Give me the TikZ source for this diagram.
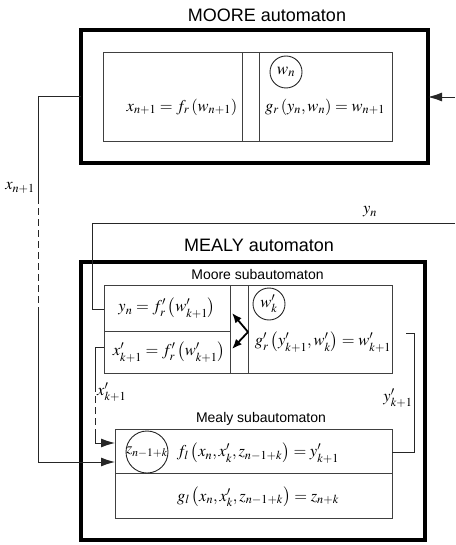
\documentclass[tikz,border=0pt]{standalone}
\usepackage{mathptmx}
\usepackage[no-math]{fontspec}
\setmainfont{Liberation Sans}
\usetikzlibrary{arrows.meta}

\begin{document}
\begin{tikzpicture}[x=1pt, y=-1pt,
    outerbox/.style={draw, line width=3.5pt, outer sep=0pt, inner sep=0pt},
    innerbox/.style={draw=black!75, line width=0.9pt, outer sep=0pt, inner sep=0pt},
    wire/.style={draw=black!85, line width=0.9pt},
    dashwire/.style={wire, dash pattern=on 7pt off 4pt},
    head/.style={-{Latex[length=14pt,width=9pt]}},
    fork/.style={line width=1.8pt, -{Latex[length=10pt,width=8pt]}},
    eq/.style={font=\fontsize{16.5}{20}\selectfont, inner sep=0pt},
    title/.style={font=\fontsize{18}{22}\selectfont, inner sep=0pt},
    subtitle/.style={font=\fontsize{14}{17}\selectfont, inner sep=0pt},
    state/.style={circle, draw=black!85, line width=0.9pt, inner sep=0pt}]
  \useasboundingbox (0,0) rectangle (455,545);

  % MOORE automaton
  \node[title] (mooretitle) at (267,15) {MOORE automaton};
  \node[outerbox, minimum width=347, minimum height=133] (moore) at (254.5,96.5) {};
  \node[innerbox, minimum width=289, minimum height=89] (mooreinner) at (247.5,96.5) {};
  \node[innerbox, minimum width=17, minimum height=89] (moorestrip) at (250.5,96.5) {};
  \node[eq] (xout) at (182,107) {$x_{n+1} = f_r\left(w_{n+1}\right)$};
  \node[eq] (gmoore) at (325,107) {$g_r\left(y_n, w_n\right) = w_{n+1}$};
  \node[state, minimum size=32] (wn) at (286,72) {\fontsize{17}{20}\selectfont$w_n$};

  % MEALY automaton
  \node[title] (mealytitle) at (259,245) {MEALY automaton};
  \node[outerbox, minimum width=344, minimum height=278] (mealy) at (253,401) {};

  % Moore subautomaton
  \node[subtitle] (subtitleA) at (257.5,274) {Moore subautomaton};
  \node[innerbox, minimum width=288, minimum height=88] (mooresub) at (248,329) {};
  \node[innerbox, minimum width=18, minimum height=88] (substrip) at (239,329) {};
  \draw[innerbox] ([yshift=-2pt]mooresub.west) -- ([yshift=-2pt]substrip.west);
  \node[eq] (ysub) at (167,308) {$y_n = f'_r\left(w'_{k+1}\right)$};
  \node[eq] (xsub) at (169,352) {$x'_{k+1} = f'_r\left(w'_{k+1}\right)$};
  \node[eq] (gsub) at (323,342) {$g'_r\left(y'_{k+1}, w'_k\right) = w'_{k+1}$};
  \node[state, minimum size=32] (wk) at (269,304) {\fontsize{16.5}{20}\selectfont$w'_k$};
  \coordinate (forkroot) at (248,332);
  \coordinate (forkup) at (232,313);
  \coordinate (forkdown) at (232,349);
  \draw[fork] (forkroot) -- (forkup);
  \draw[fork] (forkroot) -- (forkdown);

  % Mealy subautomaton
  \node[subtitle] (subtitleB) at (261,419) {Mealy subautomaton};
  \node[innerbox, minimum width=277, minimum height=89] (mealysub) at (253.5,473.5) {};
  \draw[innerbox] (mealysub.west) -- (mealysub.east);
  \node[state, minimum size=42] (zc) at (147,452) {};
  \node[inner sep=0pt, font=\fontsize{15.5}{20}\selectfont] (zlabel) at (zc) {$z_{n-1+k}$};
  \node[eq] (fmealy) at (258,453) {$f_l\left(x_n, x'_k, z_{n-1+k}\right) = y'_{k+1}$};
  \node[eq] (gmealy) at (258,497) {$g_l\left(x_n, x'_k, z_{n-1+k}\right) = z_{n+k}$};

  % input y_n of MOORE automaton
  \coordinate (yin) at (455,97);
  \draw[wire, head] (yin) -- (moore.east |- yin);

  % x_{n+1}
  \coordinate (xa) at (38,96.5);
  \coordinate (xb) at (38,197);
  \coordinate (xc) at (38,312);
  \coordinate (xd) at (38,462);
  \draw[wire] (moore.west) -- (xa) -- (xb);
  \draw[dashwire] (xb) -- (xc);
  \draw[wire, head] (xc) -- (xd) -- (mealysub.west |- xd);
  \node[eq, anchor=east] (xlabel) at (35,188) {$x_{n+1}$};

  % y_n
  \coordinate (ya) at (455,223);
  \coordinate (yb) at (92,223);
  \coordinate (yc) at (92,309);
  \draw[wire] (ya) -- (yb) -- (yc) -- (mooresub.west |- yc);
  \node[eq] (ylabel) at (370,212) {$y_n$};

  % x'_{k+1}
  \coordinate (pa) at (95,347);
  \coordinate (pb) at (95,385);
  \coordinate (pc) at (95,435);
  \coordinate (pd) at (95,443);
  \draw[wire] (mooresub.west |- pa) -- (pa) -- (pb);
  \draw[dashwire] (pb) -- (pc);
  \draw[wire, head] (pc) -- (pd) -- (mealysub.west |- pd);
  \node[eq, anchor=west] (plabel) at (97,392) {$x'_{k+1}$};

  % y'_{k+1}
  \coordinate (qa) at (414,452);
  \coordinate (qb) at (414,333);
  \coordinate (qc) at (406,333);
  \draw[wire] (mealysub.east |- qa) -- (qa) -- (qb) -- (qc);
  \node[eq] (qlabel) at (398,398) {$y'_{k+1}$};
\end{tikzpicture}
\end{document}
